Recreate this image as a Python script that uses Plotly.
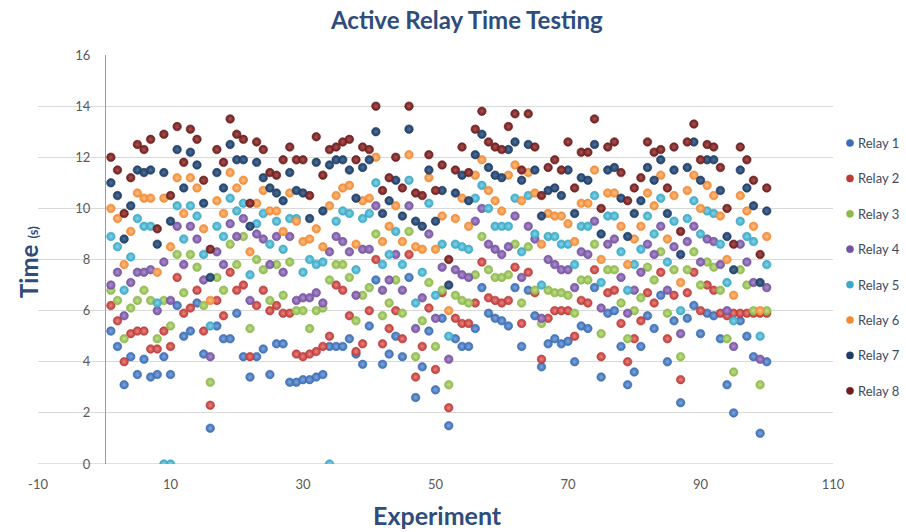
import plotly.graph_objects as go

experiment = list(range(1, 101))

relay1 = [5.2, 4.6, 3.1, 4.2, 3.5, 4.1, 3.4, 3.5, 4.2, 3.5,
          6.2, 5.0, 5.2, 6.3, 4.3, 1.4, 5.4, 4.9, 4.9, 5.9,
          4.2, 3.4, 4.2, 4.5, 3.5, 4.7, 4.7, 3.2, 3.2, 3.3,
          3.3, 3.4, 3.5, 4.6, 4.6, 4.6, 4.9, 4.3, 3.9, 5.4,
          7.2, 3.9, 4.3, 5.0, 4.2, 7.3, 2.6, 3.8, 5.2, 2.9,
          5.7, 1.5, 4.9, 4.6, 4.6, 5.3, 6.9, 5.9, 5.7, 5.6,
          5.4, 6.9, 4.6, 6.8, 5.8, 3.8, 4.7, 4.9, 4.7, 4.8,
          4.0, 5.4, 5.3, 6.9, 3.4, 5.9, 6.0, 4.6, 3.1, 3.6,
          4.6, 5.8, 5.3, 6.6, 4.0, 5.6, 2.4, 5.7, 6.2, 5.1,
          5.9, 5.8, 4.9, 3.1, 2.0, 5.6, 5.0, 4.2, 1.2, 4.0]
relay2 = [6.2, 5.6, 4.0, 5.1, 5.2, 5.2, 4.5, 4.5, 5.2, 4.6,
          7.3, 5.9, 6.1, 6.8, 5.2, 2.3, 6.4, 5.8, 7.5, 6.8,
          7.0, 4.2, 6.2, 6.8, 6.0, 6.2, 5.9, 5.9, 4.3, 4.2,
          4.3, 4.4, 4.6, 5.0, 7.0, 6.8, 5.8, 4.4, 4.7, 6.0,
          8.0, 4.7, 5.3, 6.0, 4.9, 8.2, 3.4, 4.6, 6.1, 3.7,
          6.7, 2.2, 5.7, 5.5, 5.5, 6.3, 7.9, 6.5, 6.4, 6.3,
          6.4, 7.7, 5.5, 7.5, 6.7, 4.1, 5.7, 6.0, 6.0, 6.0,
          5.0, 6.4, 6.3, 7.6, 4.2, 6.7, 6.8, 5.5, 4.0, 4.9,
          5.6, 6.7, 6.3, 7.5, 4.9, 6.6, 3.3, 6.7, 7.5, 6.0,
          7.0, 6.8, 5.9, 5.8, 5.9, 5.9, 5.9, 5.9, 5.9, 5.9]
relay3 = [6.8, 6.4, 4.9, 6.1, 6.4, 6.8, 6.4, 4.9, 6.4, 5.4,
          8.2, 6.7, 8.2, 7.7, 6.2, 3.2, 7.3, 6.8, 8.6, 7.8,
          8.9, 5.3, 8.0, 7.6, 6.4, 7.8, 6.6, 7.9, 6.0, 6.0,
          5.3, 6.0, 6.1, 7.2, 7.8, 7.8, 7.3, 5.6, 6.6, 6.9,
          9.0, 5.8, 6.3, 7.2, 5.9, 9.1, 4.2, 5.6, 7.1, 4.6,
          6.8, 3.1, 6.6, 6.4, 6.3, 7.4, 8.9, 7.6, 7.3, 7.3,
          7.4, 8.6, 6.3, 8.5, 6.8, 5.5, 6.8, 6.7, 6.7, 6.6,
          5.9, 7.2, 7.2, 8.6, 5.1, 7.6, 7.6, 6.3, 4.9, 6.0,
          6.5, 7.7, 7.2, 8.3, 5.9, 7.6, 4.2, 7.6, 8.3, 7.0,
          7.9, 7.7, 6.8, 4.9, 3.6, 7.6, 7.0, 6.0, 3.1, 6.0]
relay4 = [7.0, 7.5, 5.8, 7.1, 7.5, 7.5, 7.6, 6.0, 7.9, 6.4,
          9.3, 7.8, 9.3, 8.8, 7.2, 4.2, 8.3, 7.8, 9.4, 8.9,
          9.6, 6.4, 9.0, 8.8, 7.8, 8.9, 7.5, 8.9, 6.4, 6.5,
          6.5, 6.7, 6.3, 8.3, 8.9, 8.7, 8.3, 6.6, 8.4, 8.4,
          10.1, 6.8, 7.2, 8.2, 6.8, 10.1, 5.3, 6.5, 9.0, 5.7,
          7.7, 4.1, 7.6, 7.4, 7.3, 9.5, 10.0, 8.6, 8.4, 8.2,
          8.5, 9.7, 7.3, 9.3, 8.8, 5.7, 8.0, 7.8, 7.6, 7.6,
          6.9, 8.3, 8.2, 9.5, 6.1, 8.6, 8.8, 7.3, 5.9, 6.8,
          7.5, 8.6, 8.2, 9.3, 6.8, 8.5, 5.1, 8.7, 9.3, 7.9,
          8.8, 8.7, 7.8, 6.0, 4.6, 8.6, 7.9, 7.1, 4.1, 6.9]
relay5 = [8.9, 8.5, 6.8, 8.1, 9.6, 9.3, 9.3, 6.3, 0.0, 0.0,
          10.1, 8.8, 10.1, 9.7, 8.2, 5.4, 9.3, 8.9, 10.4, 9.9,
          10.2, 7.4, 9.4, 9.8, 8.6, 9.5, 8.4, 9.6, 9.6, 7.5,
          8.0, 7.8, 7.9, 0.0, 9.5, 9.9, 9.8, 7.6, 9.6, 9.8,
          11.0, 7.8, 8.2, 9.1, 7.8, 11.1, 6.3, 7.5, 10.2, 6.6,
          8.6, 5.0, 8.6, 8.5, 8.4, 10.4, 10.9, 10.0, 9.3, 9.3,
          9.3, 10.4, 8.3, 10.5, 9.0, 7.0, 8.9, 8.9, 8.6, 8.6,
          7.8, 9.3, 9.3, 10.5, 7.1, 9.7, 9.7, 8.3, 6.8, 7.8,
          8.4, 9.7, 9.0, 10.4, 7.9, 9.5, 6.0, 9.6, 10.3, 9.0,
          9.9, 9.8, 8.6, 7.1, 5.6, 9.5, 8.9, 8.7, 5.0, 7.8]
relay6 = [10.0, 9.6, 7.8, 9.1, 10.6, 10.4, 10.4, 7.5, 10.4, 8.5,
          11.2, 9.8, 11.2, 10.8, 9.2, 6.4, 10.3, 9.8, 11.4, 10.8,
          11.1, 8.3, 10.2, 10.7, 9.9, 9.9, 9.1, 10.6, 9.5, 8.7,
          8.8, 9.2, 8.5, 10.1, 10.5, 10.8, 10.9, 8.6, 10.3, 10.4,
          12.0, 8.7, 9.3, 10.1, 8.7, 12.1, 8.5, 8.4, 11.2, 8.4,
          9.7, 6.0, 9.6, 10.4, 9.3, 11.3, 11.9, 10.7, 10.3, 9.9,
          11.3, 11.7, 10.3, 11.4, 10.6, 8.6, 9.8, 9.7, 9.7, 9.4,
          8.7, 10.2, 10.2, 11.5, 8.0, 10.6, 10.6, 9.3, 7.8, 8.8,
          9.3, 10.6, 10.1, 11.3, 8.8, 10.5, 7.1, 10.7, 11.3, 10.0,
          10.9, 10.5, 9.7, 8.0, 6.6, 10.5, 9.9, 9.3, 6.0, 8.9]
relay7 = [11.0, 10.5, 8.8, 10.1, 11.5, 11.4, 11.5, 8.6, 11.4, 9.5,
          12.3, 10.8, 12.2, 11.7, 10.2, 7.3, 11.4, 10.8, 12.5, 11.9,
          11.9, 9.3, 11.8, 11.2, 10.8, 10.6, 10.3, 11.4, 10.7, 10.6,
          9.6, 11.8, 9.9, 11.7, 11.9, 11.9, 11.5, 10.4, 11.6, 11.9,
          13.0, 9.8, 10.3, 11.1, 9.7, 13.1, 9.5, 9.3, 11.5, 9.5,
          10.7, 7.0, 10.6, 11.3, 10.3, 12.1, 12.9, 11.6, 11.3, 11.2,
          12.3, 12.6, 11.1, 12.5, 11.5, 9.7, 10.7, 10.8, 10.5, 11.5,
          9.8, 11.2, 11.1, 12.5, 9.0, 11.5, 11.6, 10.4, 8.9, 9.8,
          10.3, 11.6, 11.1, 11.9, 9.8, 11.5, 8.2, 11.6, 12.6, 11.1,
          11.9, 11.9, 10.7, 8.9, 7.6, 11.5, 10.8, 10.1, 7.1, 9.9]
relay8 = [12.0, 11.5, 9.8, 11.2, 12.5, 12.3, 12.7, 9.2, 12.9, 10.5,
          13.2, 11.8, 13.1, 12.7, 11.1, 8.4, 12.3, 11.8, 13.5, 12.9,
          12.7, 10.2, 12.6, 12.3, 11.4, 11.3, 11.9, 12.4, 11.9, 11.9,
          10.5, 12.8, 11.3, 12.3, 12.4, 12.6, 12.7, 11.9, 12.4, 12.3,
          14.0, 10.7, 11.2, 12.0, 10.8, 14.0, 10.6, 10.5, 12.1, 10.7,
          11.7, 8.0, 11.5, 12.4, 11.4, 13.1, 13.8, 12.6, 12.4, 12.3,
          13.2, 13.7, 11.5, 13.7, 12.4, 10.5, 11.6, 11.9, 11.5, 12.6,
          10.8, 12.2, 12.2, 13.5, 10.0, 12.4, 12.6, 11.4, 10.3, 10.8,
          11.2, 12.6, 12.2, 12.3, 10.8, 12.4, 9.1, 12.6, 13.3, 11.9,
          12.5, 12.4, 11.6, 10.0, 8.6, 12.4, 11.9, 11.1, 8.2, 10.8]

series_names = ["Relay 1", "Relay 2", "Relay 3", "Relay 4",
                "Relay 5", "Relay 6", "Relay 7", "Relay 8"]
series_values = [relay1, relay2, relay3, relay4, relay5, relay6, relay7, relay8]
series_colors = ["#3B6DB3", "#BE3A37", "#8DB84B", "#7653A0",
                 "#3BA9C6", "#F28A33", "#1F3E66", "#6E1C1C"]
highlight = ["#7FA6DE", "#E88683", "#C2DE8E", "#AD90CF",
             "#86D3E6", "#FBC08A", "#4F6F99", "#A85454"]

x_ticks = [-10, 10, 30, 50, 70, 90, 110]
y_ticks = [0, 2, 4, 6, 8, 10, 12, 14, 16]

fig = go.Figure()
for name, vals, col, hl in zip(series_names, series_values, series_colors, highlight):
    fig.add_trace(go.Scatter(
        x=experiment, y=vals, mode="markers", name=name, showlegend=False,
        marker=dict(size=8.5, color=col,
                    gradient=dict(type="radial", color=hl),
                    line=dict(width=0.6, color=col)),
    ))

PL, PR, PT, PB = 38, 833, 55, 464
W, H = 906, 532
PW, PH = PR - PL, PB - PT
axis_x_pos = (105 - PL) / PW


def px_x(p):
    return (p - PL) / PW


def px_y(p):
    return (PB - p) / PH


fig.update_layout(
    width=W, height=H,
    margin=dict(l=PL, r=W - PR, t=PT, b=H - PB, autoexpand=False),
    paper_bgcolor="white", plot_bgcolor="white",
    font=dict(family="Lato, Open Sans, sans-serif", color="#595959"),
    showlegend=False,
    xaxis=dict(range=[-10, 110], tickvals=x_ticks, ticktext=[str(v) for v in x_ticks],
               showgrid=False, zeroline=False, showline=False,
               tickfont=dict(size=13, color="#595959"), ticks="",
               ticklabelstandoff=11),
    yaxis=dict(range=[0, 16], tickvals=y_ticks, ticktext=[str(v) for v in y_ticks],
               anchor="free", position=axis_x_pos, side="left",
               showgrid=True, gridcolor="#D9D9D9", gridwidth=1,
               zeroline=False, showline=True, linecolor="#8C9CC0", linewidth=1,
               tickfont=dict(size=13, color="#595959"), ticks="",
               ticklabelstandoff=12),
)

# legend drawn as markers + text at the right of the plot
r = 3.6
for i, (name, col) in enumerate(zip(series_names, series_colors)):
    cy = 143 + 35.4 * i
    fig.add_shape(type="circle", xref="paper", yref="paper",
                  x0=px_x(850 - r), x1=px_x(850 + r),
                  y0=px_y(cy + r), y1=px_y(cy - r),
                  fillcolor=col, line=dict(color=col, width=0.5))
    fig.add_annotation(text=name, x=px_x(856), y=px_y(cy), xanchor="left",
                       yanchor="middle", xref="paper", yref="paper", showarrow=False,
                       font=dict(size=13, color="#3E4A5E", family="Lato, sans-serif"))

fig.add_annotation(text="<b>Active Relay Time Testing</b>", x=px_x(466), y=px_y(19),
                   xanchor="center", yanchor="middle",
                   xref="paper", yref="paper", showarrow=False,
                   font=dict(size=24, color="#2E4C7C", family="Lato, sans-serif"))
fig.add_annotation(text="<b>Experiment</b>", x=px_x(437), y=px_y(515),
                   xanchor="center", yanchor="middle",
                   xref="paper", yref="paper", showarrow=False,
                   font=dict(size=25, color="#2E4C7C", family="Lato, sans-serif"))
fig.add_annotation(text="<b>Time</b> <span style='font-size:13px'><b>(s)</b></span>",
                   x=px_x(28), y=px_y(262), textangle=-90,
                   xanchor="center", yanchor="middle",
                   xref="paper", yref="paper", showarrow=False,
                   font=dict(size=24, color="#2E4C7C", family="Lato, sans-serif"))
fig.add_shape(type="line", xref="paper", yref="y", x0=0, x1=1, y0=0, y1=0,
              line=dict(color="#BFBFBF", width=1), layer="below")

fig.write_html("out.html", config={"displayModeBar": False},
               post_script="document.body.style.margin='0px';document.body.style.padding='0px';")
